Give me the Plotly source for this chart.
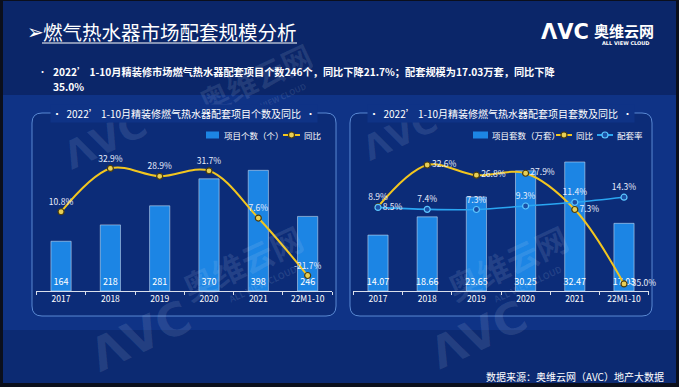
import plotly.graph_objects as go

W, H = 679, 387
def px(x): return x / W
def py(y): return 1 - y / H

categories = ["2017", "2018", "2019", "2020", "2021", "22M1-10"]
projects = [164, 218, 281, 370, 398, 246]
projects_yoy = [10.8, 32.9, 28.9, 31.7, 7.6, -21.7]
sets_wan = [14.07, 18.66, 23.65, 30.25, 32.47, 17.03]
sets_label = ["14.07", "18.66", "23.65", "30.25", "32.47", "17.03"]
sets_yoy = [8.9, 32.6, 26.8, 27.9, 7.3, -35.0]
match_rate = [8.5, 7.4, 7.3, 9.3, 11.4, 14.3]

FONT = "Noto Sans CJK SC"
BAR = "#1c85e4"
YEL = "#f2c61f"
BLU = "#2aa6f2"
LBL = "#e9eefc"
BG = "#0f3386"

fig = go.Figure()

bar_common = dict(width=0.41, marker_color=BAR, textposition="inside", insidetextanchor="start",
                  textangle=0, constraintext="none", showlegend=False,
                  textfont=dict(color="white", size=9, family=FONT))
yoy_marker = dict(size=6, color="#e8cf55", line=dict(color="#4a3c0c", width=1.2))

# ---- left chart ----
fig.add_trace(go.Bar(x=categories, y=projects, name="项目个数（个）",
                     text=[str(v) for v in projects], xaxis="x", yaxis="y", **bar_common))
fig.add_trace(go.Scatter(
    x=categories, y=projects_yoy, name="同比", mode="lines+markers+text", showlegend=False,
    line=dict(color=YEL, width=2, shape="spline", smoothing=1.0), marker=yoy_marker,
    text=[f"{v:.1f}%" for v in projects_yoy], textposition="top center",
    textfont=dict(color=LBL, size=8.5, family=FONT), xaxis="x", yaxis="y2", cliponaxis=False))

# ---- right chart ----
fig.add_trace(go.Bar(x=categories, y=sets_wan, name="项目套数（万套）",
                     text=sets_label, xaxis="x2", yaxis="y3", **bar_common))
fig.add_trace(go.Scatter(
    x=categories, y=sets_yoy, name="同比", mode="lines+markers+text", showlegend=False,
    line=dict(color=YEL, width=2, shape="spline", smoothing=1.0), marker=yoy_marker,
    text=[f"{v:.1f}%" for v in sets_yoy],
    textposition=["top center", "middle right", "middle right", "middle right", "middle right", "middle right"],
    textfont=dict(color=LBL, size=8.5, family=FONT), xaxis="x2", yaxis="y4", cliponaxis=False))
fig.add_trace(go.Scatter(
    x=categories, y=match_rate, name="配套率", mode="lines+markers+text", showlegend=False,
    line=dict(color=BLU, width=1.6, shape="spline", smoothing=1.0),
    marker=dict(size=6, color="#1b4fa6", line=dict(color="#5cc6ff", width=1.2)),
    text=[f"{v:.1f}%" for v in match_rate],
    textposition=["middle right", "top center", "top center", "top center", "top center", "top center"],
    textfont=dict(color=LBL, size=8.5, family=FONT), xaxis="x2", yaxis="y4", cliponaxis=False))

ydom = [py(291), py(140)]
xax = dict(showgrid=False, zeroline=False, showline=True, linecolor="rgba(255,255,255,0.85)",
           linewidth=1, ticks="outside", tickson="boundaries", ticklen=3,
           tickcolor="rgba(255,255,255,0.85)",
           tickfont=dict(color="white", size=8.5, family=FONT), fixedrange=True)
hid = dict(visible=False, showgrid=False, zeroline=False, fixedrange=True)

shapes = []
# slide background
shapes.append(dict(type="rect", xref="paper", yref="paper", x0=px(3), x1=px(676), y0=py(383), y1=py(1),
                   fillcolor=BG, line_width=0, layer="below"))
shapes.append(dict(type="rect", xref="paper", yref="paper", x0=px(3), x1=px(676), y0=py(95), y1=py(1),
                   fillcolor="rgba(6,22,70,0.45)", line_width=0, layer="below"))
shapes.append(dict(type="rect", xref="paper", yref="paper", x0=px(3), x1=px(676), y0=py(383), y1=py(330),
                   fillcolor="rgba(6,22,70,0.30)", line_width=0, layer="below"))

def rrect(x0, y0, x1, y1, r):
    X = lambda v: f"{px(v):.5f}"
    Y = lambda v: f"{py(v):.5f}"
    return (f"M {X(x0+r)},{Y(y0)} L {X(x1-r)},{Y(y0)} Q {X(x1)},{Y(y0)} {X(x1)},{Y(y0+r)} "
            f"L {X(x1)},{Y(y1-r)} Q {X(x1)},{Y(y1)} {X(x1-r)},{Y(y1)} "
            f"L {X(x0+r)},{Y(y1)} Q {X(x0)},{Y(y1)} {X(x0)},{Y(y1-r)} "
            f"L {X(x0)},{Y(y0+r)} Q {X(x0)},{Y(y0)} {X(x0+r)},{Y(y0)} Z")

for (a, b) in [(32, 336), (350, 652)]:
    shapes.append(dict(type="path", xref="paper", yref="paper", path=rrect(a, 113, b, 316, 10),
                       fillcolor="rgba(5,25,80,0.25)", line=dict(color="rgba(130,185,255,0.65)", width=1),
                       layer="below"))
# title underline
shapes.append(dict(type="line", xref="paper", yref="paper", x0=px(42), x1=px(297), y0=py(43), y1=py(43),
                   line=dict(color="white", width=1.2)))

annotations = []
def ann(x, y, text, size, color="white", xanchor="left", bold=False, bg=None, angle=0, family=FONT):
    t = f"<b>{text}</b>" if bold else text
    d = dict(xref="paper", yref="paper", x=px(x), y=py(y), text=t, showarrow=False,
             xanchor=xanchor, yanchor="middle", font=dict(size=size, color=color, family=family),
             textangle=angle)
    if bg:
        d["bgcolor"] = bg
    annotations.append(d)

# manual legends
def leg_bar(x0, x1, y):
    shapes.append(dict(type="rect", xref="paper", yref="paper", x0=px(x0), x1=px(x1),
                       y0=py(y + 3.5), y1=py(y - 3.5), fillcolor=BAR, line_width=0))
def leg_line(x0, x1, y, color, mfill, mline):
    shapes.append(dict(type="line", xref="paper", yref="paper", x0=px(x0), x1=px(x1), y0=py(y), y1=py(y),
                       line=dict(color=color, width=2)))
    xc = (x0 + x1) / 2
    shapes.append(dict(type="circle", xref="paper", yref="paper", x0=px(xc - 3), x1=px(xc + 3),
                       y0=py(y + 3), y1=py(y - 3), fillcolor=mfill, line=dict(color=mline, width=1.2)))

LY = 135
leg_bar(206, 219, LY)
ann(222, LY, "项目个数（个）", 8.5)
leg_line(283, 300, LY, YEL, "#e8cf55", "#4a3c0c")
ann(302, LY, "同比", 8.5)
leg_bar(473, 488, LY)
ann(490, LY, "项目套数（万套）", 8.5)
leg_line(556, 572, LY, YEL, "#e8cf55", "#4a3c0c")
ann(574, LY, "同比", 8.5)
leg_line(597, 613, LY, BLU, "#1b4fa6", "#5cc6ff")
ann(615, LY, "配套率", 8.5)

# watermarks
wm = "rgba(200,215,240,0.13)"
ann(242, 262, "奥维云网", 32, wm, "center", True, angle=-25)
ann(262, 284, "ALL VIEW CLOUD", 9, wm, "center", True, angle=-25)
ann(507, 262, "奥维云网", 32, wm, "center", True, angle=-25)
ann(527, 284, "ALL VIEW CLOUD", 9, wm, "center", True, angle=-25)
ann(255, 78, "奥维云网", 30, wm, "center", True, angle=-25)
ann(275, 99, "ALL VIEW CLOUD", 8, wm, "center", True, angle=-25)
ann(140, 336, "ΛVC", 46, wm, "center", True, angle=-25, family="DejaVu Sans")
ann(478, 334, "ΛVC", 44, wm, "center", True, angle=-25, family="DejaVu Sans")
ann(105, 140, "ΛVC", 38, wm, "center", True, angle=-25, family="DejaVu Sans")
ann(400, 134, "ΛVC", 34, wm, "center", True, angle=-25, family="DejaVu Sans")

# title
ann(25, 32, "➢", 20, "white", "left", family="DejaVu Sans")
ann(41, 32, "燃气热水器市场配套规模分析", 19.5, "white", "left")
# subtitle
ann(36, 71, "•", 9, "white", "left")
ann(51, 71, "2022’ 1-10月精装修市场燃气热水器配套项目个数246个，同比下降21.7%；配套规模为17.03万套，同比下降", 10.2, "white", "left", True)
ann(51, 87, "35.0%", 10.2, "white", "left", True)
# logo
ann(539, 32, "ΛVC", 21, "white", "left", True, family="DejaVu Sans")
ann(592, 31, "奥维云网", 15, "white", "left", True)
ann(626, 43, "ALL VIEW CLOUD", 5, "white", "center", True, family="DejaVu Sans")
# panel titles
ann(184, 113, "•  2022’ 1-10月精装修燃气热水器配套项目个数及同比  •", 10, "white", "center", bg=BG)
ann(501, 113, "•  2022’ 1-10月精装修燃气热水器配套项目套数及同比  •", 10, "white", "center", bg=BG)
# source
ann(666, 376, "数据来源：奥维云网（AVC）地产大数据", 10, "white", "right")

fig.update_layout(
    width=W, height=H, margin=dict(l=0, r=0, t=0, b=0), autosize=False,
    paper_bgcolor="#0b0f1c", plot_bgcolor="rgba(0,0,0,0)",
    font=dict(family=FONT, color="white"),
    barmode="overlay", showlegend=False,
    xaxis=dict(domain=[px(36.4), px(332.3)], anchor="y", **xax),
    yaxis=dict(domain=ydom, range=[0, 498], anchor="x", **hid),
    yaxis2=dict(range=[-29.6, 47.4], overlaying="y", anchor="x", **hid),
    xaxis2=dict(domain=[px(353.4), px(648.6)], anchor="y3", **xax),
    yaxis3=dict(domain=ydom, range=[0, 38.0], anchor="x2", **hid),
    yaxis4=dict(range=[-39.0, 46.8], overlaying="y3", anchor="x2", **hid),
    shapes=shapes, annotations=annotations,
)

post_js = ("document.documentElement.style.margin='0';document.documentElement.style.overflow='hidden';"
           "document.body.style.margin='0';document.body.style.padding='0';document.body.style.overflow='hidden';"
           "var gd=document.getElementById('{plot_id}');gd.style.width='679px';gd.style.height='387px';"
           "Plotly.relayout(gd,{width:679,height:387});")

fig.write_html("out.html", default_width="679px", default_height="387px",
               config={"responsive": False, "displayModeBar": False}, post_script=post_js)
